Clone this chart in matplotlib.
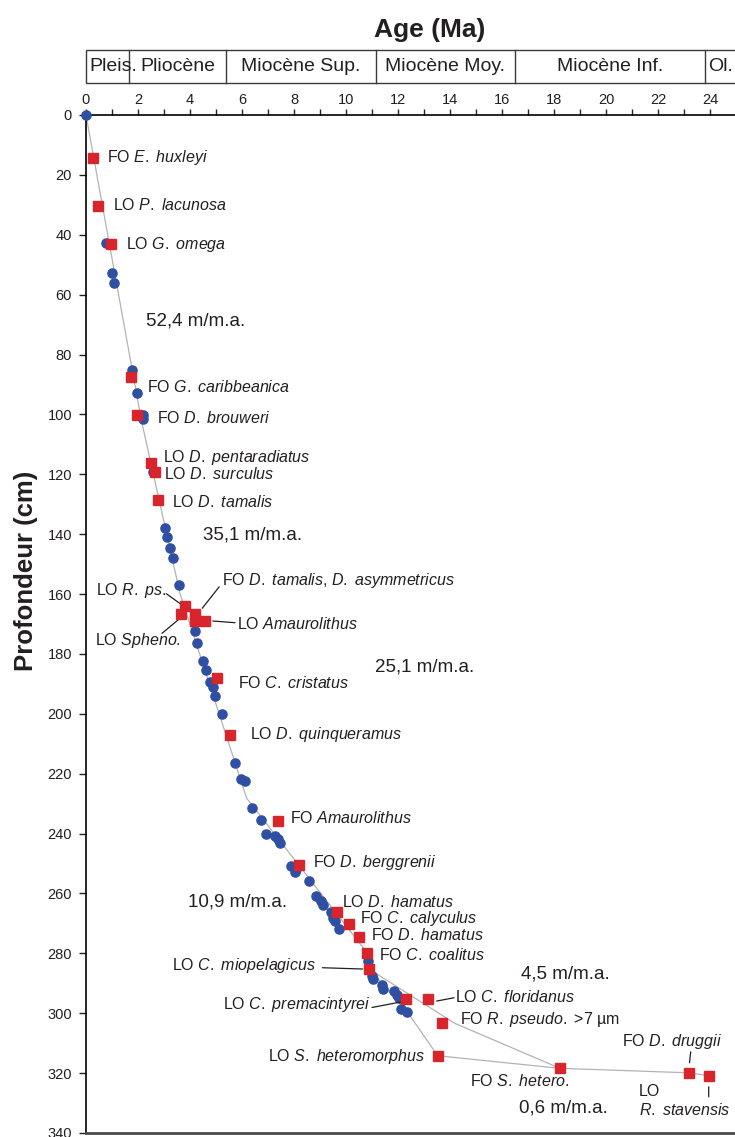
import matplotlib
matplotlib.use("Agg")
import matplotlib.pyplot as plt
from matplotlib.patches import Rectangle
from matplotlib.transforms import offset_copy
from matplotlib.ticker import MultipleLocator

plt.rcParams['font.family'] = ['Liberation Sans', 'DejaVu Sans']
plt.rcParams['mathtext.fontset'] = 'custom'
plt.rcParams['mathtext.rm'] = 'Liberation Sans'
plt.rcParams['mathtext.it'] = 'Liberation Sans:italic'
plt.rcParams['mathtext.bf'] = 'Liberation Sans:bold'

# ---------------- data ----------------
sample_age = [0.0, 0.77, 0.99, 1.09, 1.77, 1.95, 2.18, 2.2, 2.59, 3.04, 3.12, 3.23,
              3.35, 3.59, 4.2, 4.28, 4.5, 4.63, 4.78, 4.87, 4.97, 5.24, 5.72, 5.95,
              6.1, 6.4, 6.74, 6.91, 7.26, 7.37, 7.47, 7.9, 8.05, 8.08, 8.56, 8.86,
              9.05, 9.13, 9.42, 9.49, 9.58, 9.73, 10.86, 10.99, 11.02, 11.37, 11.44,
              11.85, 11.97, 12.05, 12.1, 12.36]
sample_depth = [0.0, 42.9, 52.7, 56.0, 85.2, 92.7, 100.2, 101.4, 119.4, 137.8, 140.8, 144.5,
                147.9, 156.9, 172.2, 176.5, 182.4, 185.5, 189.3, 190.9, 194.0, 200.1, 216.5, 221.7,
                222.3, 231.6, 235.3, 240.3, 240.9, 241.9, 243.0, 250.7, 252.7, 251.8, 255.9, 261.0,
                262.5, 263.9, 266.1, 268.3, 269.2, 271.9, 282.5, 287.7, 288.5, 290.6, 292.0,
                292.5, 293.9, 295.0, 298.7, 299.6]

datum_names = [
    r"FO $\mathit{E.\ huxleyi}$",
    r"LO $\mathit{P.\ lacunosa}$",
    r"LO $\mathit{G.\ omega}$",
    r"FO $\mathit{G.\ caribbeanica}$",
    r"FO $\mathit{D.\ brouweri}$",
    r"LO $\mathit{D.\ pentaradiatus}$",
    r"LO $\mathit{D.\ surculus}$",
    r"LO $\mathit{D.\ tamalis}$",
    r"LO $\mathit{R.\ ps.}$",
    r"LO $\mathit{Spheno.}$",
    r"FO $\mathit{D.\ tamalis}$, $\mathit{D.\ asymmetricus}$",
    "",
    r"LO $\mathit{Amaurolithus}$",
    r"FO $\mathit{C.\ cristatus}$",
    r"LO $\mathit{D.\ quinqueramus}$",
    r"FO $\mathit{Amaurolithus}$",
    r"FO $\mathit{D.\ berggrenii}$",
    r"LO $\mathit{D.\ hamatus}$",
    r"FO $\mathit{C.\ calyculus}$",
    r"FO $\mathit{D.\ hamatus}$",
    r"FO $\mathit{C.\ coalitus}$",
    r"LO $\mathit{C.\ miopelagicus}$",
    r"LO $\mathit{C.\ premacintyrei}$",
    r"LO $\mathit{C.\ floridanus}$",
    r"FO $\mathit{R.\ pseudo.}$ >7 µm",
    r"LO $\mathit{S.\ heteromorphus}$",
    r"FO $\mathit{S.\ hetero.}$",
    r"FO $\mathit{D.\ druggii}$",
    "LO",
]
datum_age = [0.27, 0.47, 0.95, 1.72, 1.97, 2.49, 2.67, 2.76, 3.82, 3.67, 4.2, 4.2,
             4.59, 5.05, 5.54, 7.38, 8.2, 9.64, 10.12, 10.5, 10.81, 10.9, 12.31,
             13.17, 13.7, 13.53, 18.23, 23.2, 23.95]
datum_depth = [14.4, 30.4, 43.2, 87.6, 100.2, 116.3, 119.1, 128.6, 163.9, 166.6, 166.6, 168.9,
               168.9, 187.9, 207.2, 235.7, 250.5, 266.1, 270.3, 274.4, 279.8, 285.3, 295.4,
               295.4, 303.4, 314.2, 318.4, 319.9, 320.9]
extra_name = r"$\mathit{R.\ stavensis}$"

model_age = [0.0, 2.13, 3.62, 6.18, 10.81, 10.9, 14.19, 18.23, 23.2, 23.95]
model_depth = [0.0, 102.0, 160.0, 228.2, 279.8, 285.3, 303.4, 318.4, 319.9, 320.9]
alt_age = [10.9, 12.36, 13.53, 18.23]
alt_depth = [285.3, 299.6, 314.2, 318.4]

rate_labels = ["52,4 m/m.a.", "35,1 m/m.a.", "25,1 m/m.a.", "10,9 m/m.a.", "4,5 m/m.a.", "0,6 m/m.a."]
rate_age = [2.31, 4.5, 11.12, 3.93, 16.74, 16.67]
rate_depth = [68.8, 140.3, 184.4, 262.8, 287.0, 331.8]

period_names = ["Pleis.", "Pliocène", "Miocène Sup.", "Miocène Moy.", "Miocène Inf.", "Ol."]
period_edges = [0.0, 1.67, 5.4, 11.15, 16.5, 23.8, 25.0]

age_ticks = list(range(0, 25, 2))
depth_ticks = list(range(0, 341, 20))

# ---------------- layout / style ----------------
TXT = '#231f20'
W, H = 735, 1137
fig = plt.figure(figsize=(W / 100, H / 100), dpi=100)
ax = fig.add_axes([86 / W, 4 / H, 650 / W, 1018 / H])
ax.set_xlim(0, 25)
ax.set_ylim(340, 0)

ax.xaxis.tick_top()
ax.set_xticks(age_ticks)
ax.xaxis.set_minor_locator(MultipleLocator(1))
ax.set_yticks(depth_ticks)
ax.tick_params(axis='x', which='both', direction='out', length=4, width=1,
               pad=2, labelsize=10.5, colors=TXT)
ax.tick_params(axis='y', which='major', direction='out', length=5, width=1,
               pad=5, labelsize=10.5, colors=TXT)
ax.spines['right'].set_visible(False)
ax.spines['top'].set_linewidth(1.2)
ax.spines['left'].set_linewidth(1.2)
ax.spines['bottom'].set_linewidth(2.0)
ax.spines['bottom'].set_color('#4a4a4a')

ax.plot(model_age, model_depth, color='#b3b3b3', lw=0.9, zorder=1)
ax.plot(alt_age, alt_depth, color='#b3b3b3', lw=0.9, zorder=1)
ax.plot(sample_age, sample_depth, ls='none', marker='o', ms=6.6,
        mfc='#2f4fa3', mec='#2f4fa3', zorder=3, clip_on=False)
ax.plot(datum_age, datum_depth, ls='none', marker='s', ms=6.6,
        mfc='#d8252b', mec='#d8252b', zorder=4, clip_on=False)

# label placement: (datum index, dx px, dy px (down), ha)
label_layout = {
    0: (14, -1, 'left'), 1: (15, -1, 'left'), 2: (15, 0, 'left'),
    3: (16, 10, 'left'), 4: (19.5, 3, 'left'), 5: (12, -6, 'left'),
    6: (9, 2.5, 'left'), 7: (14, 2, 'left'), 8: (-19, -15, 'right'),
    9: (0, 27, 'right'), 10: (27, -33, 'left'), 12: (32, 3, 'left'),
    13: (21, 5, 'left'), 14: (20, -1, 'left'), 15: (12, -2.4, 'left'),
    16: (13.5, -2.7, 'left'), 17: (5, -10, 'left'), 18: (11, -6, 'left'),
    19: (12, -1.3, 'left'), 20: (12.4, 2.3, 'left'), 21: (-53, -4, 'right'),
    22: (-36, 4.6, 'right'), 23: (26.8, -2.7, 'left'), 24: (18.2, -4, 'left'),
    25: (-12.4, 0.3, 'right'), 26: (9, 12.4, 'right'), 27: (-17.4, -31, 'center'),
    28: (-70, 16, 'left'),
}
for i, (dx, dy, ha) in label_layout.items():
    ax.annotate(datum_names[i], xy=(datum_age[i], datum_depth[i]), xytext=(dx, -dy),
                textcoords='offset pixels', ha=ha, va='center', fontsize=11.5,
                color=TXT, annotation_clip=False)
ax.annotate(extra_name, xy=(datum_age[28], datum_depth[28]), xytext=(-70, -34),
            textcoords='offset pixels', ha='left', va='center', fontsize=11.5,
            color=TXT, annotation_clip=False)

# leader lines: (datum index, x1, y1, x2, y2) offsets in px (y down)
leaders = [
    (8, -19, -12, -5, -2),
    (9, -19.4, 19.5, -1.4, 4.5),
    (10, 24, -27, 7, -5.5),
    (12, 7.4, 0.3, 29.7, 2),
    (21, -47, -1.5, -6.7, -0.2),
    (22, -34, 8, -4.2, 2.3),
    (23, 8.2, 1.6, 25.6, -1.7),
    (27, 1.5, -21, 0.3, -10),
    (28, 0, 11, 0, 21),
]


def offs(dx, dy):
    return offset_copy(ax.transData, fig=fig, x=dx, y=-dy, units='dots')


for i, x1, y1, x2, y2 in leaders:
    p = (datum_age[i], datum_depth[i])
    ax.annotate('', xy=p, xycoords=offs(x2, y2), xytext=p, textcoords=offs(x1, y1),
                arrowprops=dict(arrowstyle='-', lw=0.9, color=TXT,
                                shrinkA=0, shrinkB=0), annotation_clip=False)

for lab, a, d in zip(rate_labels, rate_age, rate_depth):
    ax.text(a, d, lab, ha='left', va='center', fontsize=13.5, color=TXT)

# period header box
trans = ax.get_xaxis_transform()
y0 = (1133 - 83) / 1018
y1 = (1133 - 50) / 1018
ax.add_patch(Rectangle((period_edges[0], y0), period_edges[-1] - period_edges[0], y1 - y0,
                       transform=trans, fill=False, lw=1.0, ec='#3a3a3a', clip_on=False))
for e in period_edges[1:-1]:
    ax.plot([e, e], [y0, y1], transform=trans, color='#3a3a3a', lw=1.0, clip_on=False)
ym = (y0 + y1) / 2
for k, name in enumerate(period_names):
    lo, hi = period_edges[k], period_edges[k + 1]
    if k == 0 or k == len(period_names) - 1:
        ax.text(lo + 0.12, ym, name, transform=trans, ha='left', va='center',
                fontsize=14, color=TXT, clip_on=False)
    else:
        ax.text((lo + hi) / 2, ym, name, transform=trans, ha='center', va='center',
                fontsize=14, color=TXT, clip_on=False)

fig.text(430 / W, 1 - 30 / H, "Age (Ma)", ha='center', va='center', fontsize=19,
         fontweight='bold', color=TXT)
fig.text(26 / W, 1 - 571 / H, "Profondeur (cm)", rotation=90, ha='center', va='center',
         fontsize=18.5, fontweight='bold', color=TXT)

fig.savefig('out.png', dpi=100)
